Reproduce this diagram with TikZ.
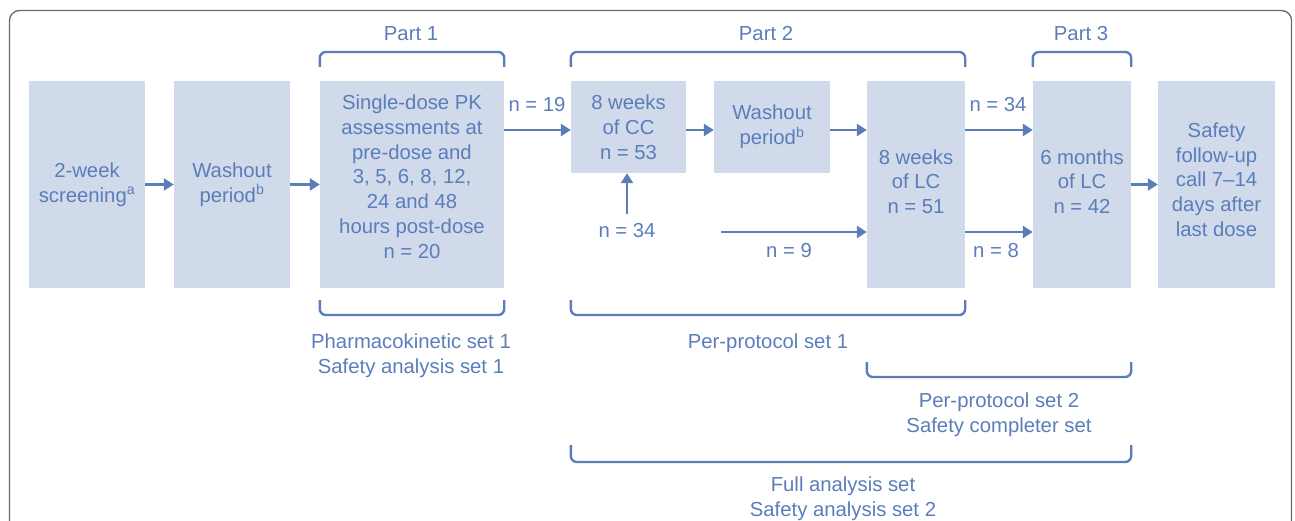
\documentclass[tikz,border=0pt]{standalone}
\usepackage{fontspec}
\setmainfont{Liberation Sans}
\usetikzlibrary{positioning, arrows.meta}
\definecolor{flowblue}{HTML}{5B7DBA}
\definecolor{boxfill}{HTML}{D0DAEA}
\definecolor{framegray}{HTML}{6A6A6A}
% extra depth under the last line, lifts the text block
\newcommand{\liftby}[1]{\rule[-#1]{0pt}{#1}}

\begin{document}
\begin{tikzpicture}[
    x=1pt, y=-1pt,
    stage/.style={rectangle, fill=boxfill, text=flowblue, inner sep=0pt, align=center, font=\fontsize{20.3}{24.8}\selectfont},
    tag/.style={text=flowblue, inner sep=0pt, align=center, font=\fontsize{20.3}{24.8}\selectfont},
    arrow/.style={-{Triangle[length=10pt, width=12pt]}, line width=2.8pt, draw=flowblue},
    bracket/.style={line width=2.4pt, draw=flowblue, rounded corners=6pt}
]
\useasboundingbox (0,0) rectangle (1295,521);

% Outer frame
\draw[framegray, line width=1.3pt, rounded corners=10pt] (9.5,10.5) rectangle (1291.5,560);

% Study stages
\node[stage, minimum width=116pt, minimum height=207pt] (box1) at (87,184.5) {2-week\\screening\textsuperscript{a}};
\node[stage, minimum width=116pt, minimum height=207pt] (box2) at (232,184.5) {Washout\\period\textsuperscript{b}};
\node[stage, minimum width=184pt, minimum height=207pt] (box3) at (412,184.5) {Single-dose PK\\assessments at\\pre-dose and\\3, 5, 6, 8, 12,\\24 and 48\\hours post-dose\\n = 20\liftby{16pt}};
\node[stage, minimum width=115pt, minimum height=92pt] (box4) at (628.5,127) {8 weeks\\of CC\\n = 53};
\node[stage, minimum width=116pt, minimum height=92pt] (box5) at (772,127) {Washout\\period\textsuperscript{b}\liftby{4pt}};
\node[stage, minimum width=98pt, minimum height=207pt] (box6) at (916,184.5) {8 weeks\\of LC\\n = 51\liftby{6pt}};
\node[stage, minimum width=98pt, minimum height=207pt] (box7) at (1082,184.5) {6 months\\of LC\\n = 42\liftby{6pt}};
\node[stage, minimum width=117pt, minimum height=207pt] (box8) at (1216.5,184.5) {Safety\\follow-up\\call 7--14\\days after\\last dose\liftby{10pt}};

% Row heights for the side arrows
\coordinate (upper) at (0,130);
\coordinate (lower) at (0,232);

% Patient counts
\node[tag] (n19) at (537,105) {n = 19};
\node[tag] (n34a) at (627,231) {n = 34};
\node[tag] (n9) at (789,251) {n = 9};
\node[tag] (n34b) at (998,105) {n = 34};
\node[tag] (n8) at (996,251) {n = 8};
\coordinate (n9start) at (721,232);

% Connecting arrows
\draw[arrow] (box1) -- (box2);
\draw[arrow] (box2) -- (box3);
\draw[arrow] (box3.east |- upper) -- (box4.west |- upper);
\draw[arrow] (box4.east |- upper) -- (box5.west |- upper);
\draw[arrow] (box5.east |- upper) -- (box6.west |- upper);
\draw[arrow] (n34a.north |- 0,214) -- (n34a.north |- box4.south);
\draw[arrow] (n9start) -- (box6.west |- n9start);
\draw[arrow] (box6.east |- upper) -- (box7.west |- upper);
\draw[arrow] (box6.east |- lower) -- (box7.west |- lower);
\draw[arrow] (box7) -- (box8);

% Part brackets on top
\draw[bracket] (box3.west |- 0,67) |- (box3.east |- 0,52) -- (box3.east |- 0,67);
\draw[bracket] (box4.west |- 0,67) |- (box6.east |- 0,52) -- (box6.east |- 0,67);
\draw[bracket] (box7.west |- 0,67) |- (box7.east |- 0,52) -- (box7.east |- 0,67);
\node[tag] (part1) at (411,34) {Part 1};
\node[tag] (part2) at (766,34) {Part 2};
\node[tag] (part3) at (1081,34) {Part 3};

% Analysis set brackets below
\draw[bracket] (box3.west |- 0,300) |- (box3.east |- 0,315) -- (box3.east |- 0,300);
\draw[bracket] (box4.west |- 0,300) |- (box6.east |- 0,315) -- (box6.east |- 0,300);
\draw[bracket] (box6.west |- 0,362) |- (box7.east |- 0,377) -- (box7.east |- 0,362);
\draw[bracket] (box4.west |- 0,445) |- (box7.east |- 0,462) -- (box7.east |- 0,445);
\node[tag] (pkset) at (411,355.5) {Pharmacokinetic set 1\\Safety analysis set 1};
\node[tag] (ppset1) at (768,343) {Per-protocol set 1};
\node[tag] (ppset2) at (999,415) {Per-protocol set 2\\Safety completer set};
\node[tag] (fullset) at (843,499) {Full analysis set\\Safety analysis set 2};

\end{tikzpicture}
\end{document}
